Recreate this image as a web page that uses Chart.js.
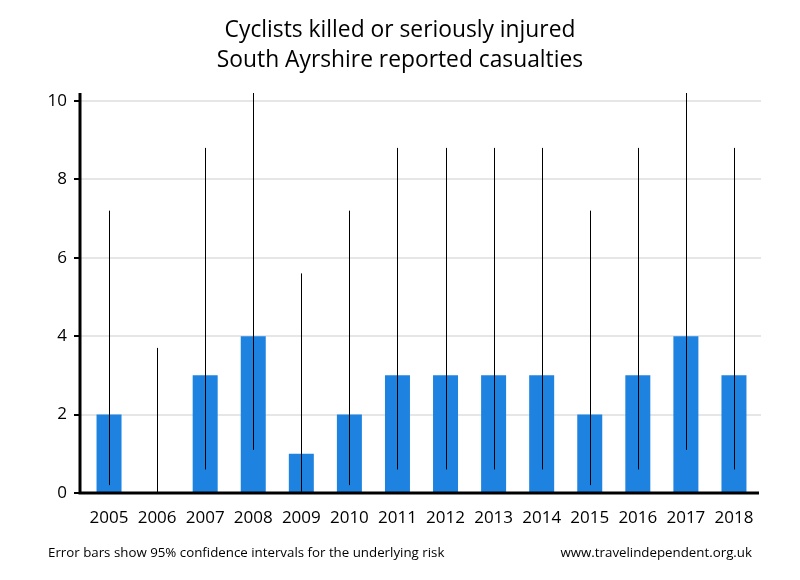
<!DOCTYPE html>
<html>
<head>
<meta charset="utf-8">
<script src="https://cdn.jsdelivr.net/npm/chart.js@4"></script>
<style>
  body { margin: 0; background: #fff; }
  #wrap { width: 800px; height: 580px; }
</style>
</head>
<body>
<div id="wrap"><canvas id="chart" width="800" height="580"></canvas></div>
<script>
const years = ['2005', '2006', '2007', '2008', '2009', '2010', '2011', '2012', '2013', '2014', '2015', '2016', '2017', '2018'];
const casualties = [2, 0, 3, 4, 1, 2, 3, 3, 3, 3, 2, 3, 4, 3];
// 95% confidence interval ends
const ciLow = [0.2, 0, 0.6, 1.1, 0.03, 0.2, 0.6, 0.6, 0.6, 0.6, 0.2, 0.6, 1.1, 0.6];
const ciHigh = [7.2, 3.7, 8.8, 10.2, 5.6, 7.2, 8.8, 8.8, 8.8, 8.8, 7.2, 8.8, 10.2, 8.8];
const yTicks = [0, 2, 4, 6, 8, 10];

const titleLines = ['Cyclists killed or seriously injured', 'South Ayrshire reported casualties'];
const footLeft = 'Error bars show 95% confidence intervals for the underlying risk';
const footRight = 'www.travelindependent.org.uk';

const FONT = '"Open Sans", sans-serif';

const decorations = {
    id: 'decorations',
    beforeDatasetsDraw(chart) {
        const { ctx, chartArea: a, scales: { y } } = chart;
        ctx.save();
        ctx.strokeStyle = '#e6e6e6';
        ctx.lineWidth = 2;
        yTicks.forEach(t => {
            if (t === 0) return;
            const py = Math.round(y.getPixelForValue(t));
            ctx.beginPath();
            ctx.moveTo(a.left - 5, py);
            ctx.lineTo(a.right + 3, py);
            ctx.stroke();
        });
        ctx.restore();
    },
    afterDatasetsDraw(chart) {
        const { ctx, chartArea: a, scales: { x, y } } = chart;
        ctx.save();
        // error bars
        ctx.beginPath();
        ctx.rect(a.left - 5, a.top, a.right - a.left + 10, a.bottom - a.top);
        ctx.clip();
        ctx.strokeStyle = '#000';
        ctx.lineWidth = 1;
        years.forEach((yr, i) => {
            const px = Math.round(x.getPixelForValue(i)) + 0.5;
            ctx.beginPath();
            ctx.moveTo(px, y.getPixelForValue(ciLow[i]));
            ctx.lineTo(px, y.getPixelForValue(ciHigh[i]));
            ctx.stroke();
        });
        ctx.restore();

        // axes
        ctx.save();
        ctx.strokeStyle = '#000';
        ctx.lineWidth = 3;
        const ax = a.left - 5;
        ctx.beginPath();
        ctx.moveTo(ax, a.top);
        ctx.lineTo(ax, a.bottom);
        ctx.lineTo(a.right + 1, a.bottom);
        ctx.stroke();
        ctx.lineWidth = 2;
        yTicks.forEach(t => {
            const py = Math.round(y.getPixelForValue(t));
            ctx.beginPath();
            ctx.moveTo(ax - 6, py);
            ctx.lineTo(ax, py);
            ctx.stroke();
        });
        ctx.restore();
    },
    afterDraw(chart) {
        const { ctx } = chart;
        ctx.save();
        ctx.fillStyle = '#000';
        ctx.textBaseline = 'alphabetic';
        ctx.textAlign = 'center';
        ctx.font = '22.8px ' + FONT;
        ctx.fillText(titleLines[0], 400, 37);
        ctx.fillText(titleLines[1], 400, 67);
        ctx.font = '13.3px ' + FONT;
        ctx.textAlign = 'left';
        ctx.fillText(footLeft, 48, 557);
        ctx.textAlign = 'right';
        ctx.fillText(footRight, 752, 557);
        ctx.restore();
    }
};

new Chart(document.getElementById('chart'), {
    type: 'bar',
    data: {
        labels: years,
        datasets: [{
            label: 'Casualties',
            data: casualties,
            backgroundColor: '#1e82e0',
            borderWidth: 0,
            barPercentage: 0.52,
            categoryPercentage: 1.0,
        }],
    },
    options: {
        responsive: false,
        animation: false,
        layout: { padding: { top: 93, left: 0, right: 42, bottom: 0 } },
        plugins: {
            legend: { display: false },
            title: { display: false },
            tooltip: { enabled: false },
        },
        scales: {
            x: {
                grid: { display: false, drawTicks: false },
                border: { display: false },
                ticks: { color: '#000', font: { family: FONT, size: 17 }, padding: 15, maxRotation: 0 },
                afterFit(s) { s.height = 87; },
            },
            y: {
                min: 0,
                max: 10.2,
                afterBuildTicks(s) { s.ticks = yTicks.map(v => ({ value: v })); },
                grid: { display: false, drawTicks: false },
                border: { display: false },
                ticks: { color: '#000', font: { family: FONT, size: 17 }, padding: 18 },
                afterFit(s) { s.width = 85; },
            },
        },
    },
    plugins: [decorations],
});
</script>
</body>
</html>
